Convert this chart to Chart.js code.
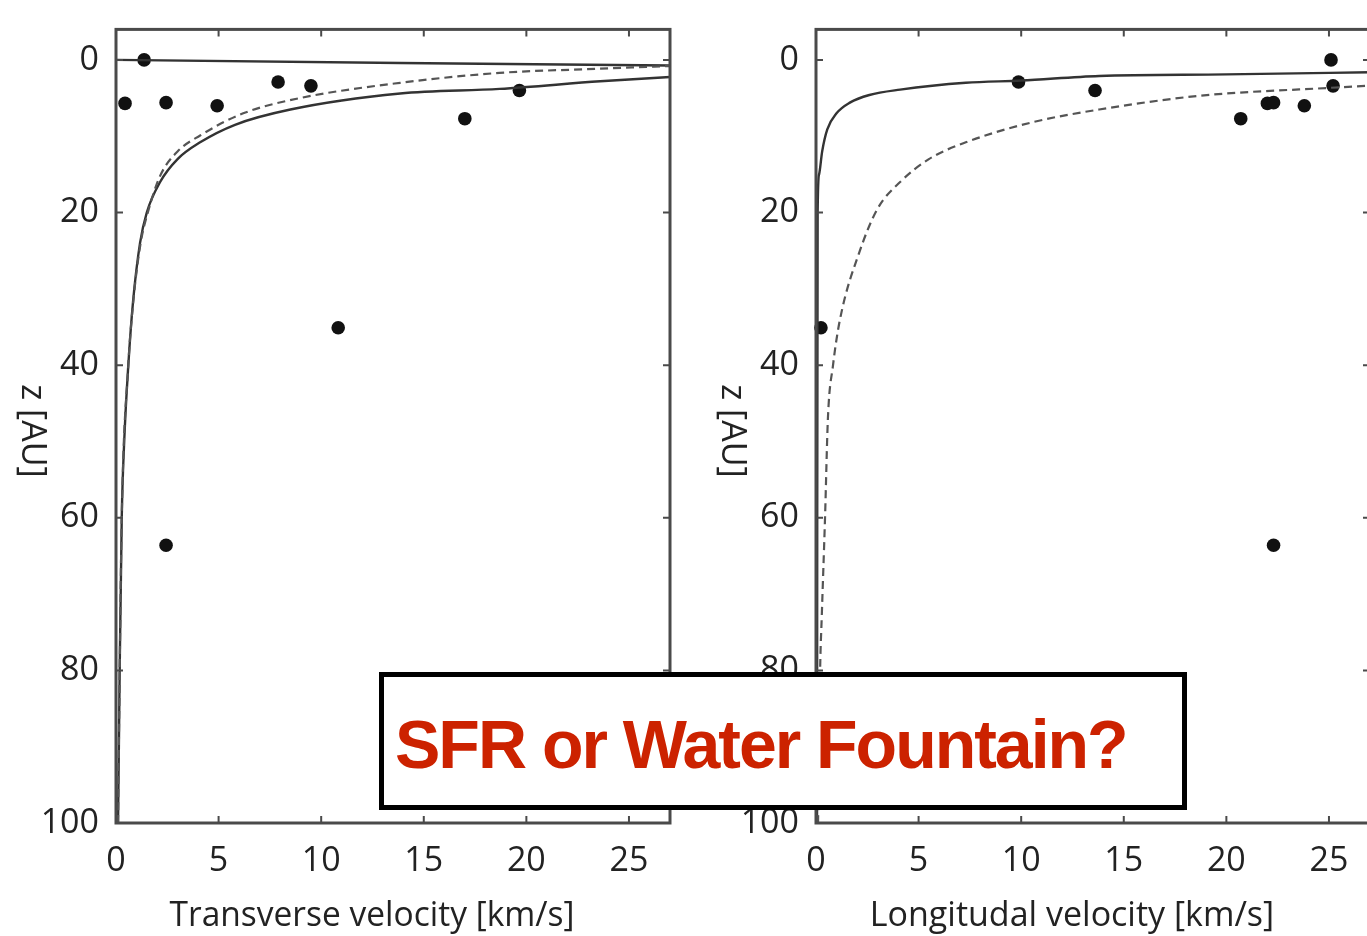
<!DOCTYPE html>
<html>
<head>
<meta charset="utf-8">
<script src="https://cdn.jsdelivr.net/npm/chart.js@4/dist/chart.umd.min.js"></script>
<style>
  html, body { margin: 0; padding: 0; background: #fff; }
  body { width: 1367px; height: 936px; overflow: hidden; position: relative; }
  .panel { position: absolute; top: 0; width: 700px; height: 936px; }
  #left { left: 0; }
  #right { left: 700px; }
  #note {
    position: absolute; left: 379px; top: 672px; width: 808px; height: 138px;
    box-sizing: border-box; border: 5px solid #000; background: #fff; z-index: 5;
  }
  #note span {
    position: absolute; left: 11px; top: 28px; line-height: 68px; white-space: nowrap;
    font: bold 68px "Liberation Sans", Arial, sans-serif; letter-spacing: -2px; color: #cc2200;
  }
</style>
</head>
<body>
<div class="panel" id="left"><canvas id="chartLeft" width="700" height="936"></canvas></div>
<div class="panel" id="right"><canvas id="chartRight" width="700" height="936"></canvas></div>
<div id="note"><span>SFR or Water Fountain?</span></div>

<script>
// axis ticks
const xTicks = [0, 5, 10, 15, 20, 25];
const zTicks = [0, 20, 40, 60, 80, 100];

// observed points (z in AU, velocities in km/s)
const zObs = [0, 5.7, 5.6, 6.0, 2.9, 3.4, 7.7, 4.0, 35.1, 63.6];
const vTrans = [1.37, 0.44, 2.44, 4.93, 7.9, 9.5, 17.0, 19.66, 10.83, 2.44];
const vLong = [25.1, 22.0, 22.3, 23.8, 9.87, 25.2, 20.7, 13.6, 0.24, 22.3];

// transverse model curves
const transSolidV = [0.1, 0.18, 0.28, 0.4, 0.6, 0.83, 1.17, 1.5, 2.15, 3.0, 4.1, 5.8, 8.5, 13.85, 18.7, 23.6, 27.5];
const transSolidZ = [100, 80, 60, 50, 40, 31.7, 24, 20, 16, 13, 10.8, 8.5, 6.5, 4.4, 3.8, 2.8, 2.15];
const transDashV = [0.1, 0.18, 0.28, 0.6, 0.84, 1.2, 1.55, 2.15, 3.0, 4.1, 6.2, 8.97, 13.85, 18.7, 23.6, 27.5];
const transDashZ = [100, 80, 60, 40, 31.7, 24, 20, 15.2, 12, 9.9, 7, 5.0, 3.0, 1.7, 1.15, 0.75];
const transTopV = [0, 13.85, 27.5];
const transTopZ = [0, 0.4, 0.75];

// longitudinal model curves
const longSolidV = [0.05, 0.06, 0.08, 0.15, 0.3, 0.55, 1.0, 1.65, 2.6, 4.1, 7.3, 10, 13.8, 20, 27.5];
const longSolidZ = [100, 60, 20, 15, 12, 9.1, 7, 5.6, 4.6, 3.9, 3.0, 2.7, 2.1, 1.9, 1.6];
const longDashV = [0.1, 0.2, 0.28, 0.44, 0.58, 0.83, 1.17, 2.14, 3.0, 4.1, 5.5, 7.3, 10.5, 13.8, 18.7, 25.1, 27.5];
const longDashZ = [100, 80, 73, 60, 47, 40, 34, 25, 19.5, 16, 13, 10.8, 8.2, 6.5, 4.7, 3.65, 3.3];

const pairs = (xs, ys) => xs.map((x, i) => ({ x: x, y: ys[i] }));

const frameColor = '#4a4a4a';
const textColor = '#222';
const tickFont = { family: '"Open Sans", sans-serif', size: 34 };

// box with inward ticks on all four sides, plus axis titles
const framePlugin = {
  id: 'frame',
  afterDraw(chart, args, opts) {
    const { ctx, chartArea: a, scales } = chart;
    ctx.save();
    ctx.strokeStyle = frameColor;
    ctx.lineWidth = 3;
    ctx.strokeRect(a.left, a.top, a.right - a.left, a.bottom - a.top);
    ctx.lineWidth = 2;
    ctx.beginPath();
    xTicks.forEach(v => {
      const px = scales.x.getPixelForValue(v);
      if (px <= a.left + 1 || px >= a.right - 1) return;
      ctx.moveTo(px, a.bottom); ctx.lineTo(px, a.bottom - 7);
      ctx.moveTo(px, a.top); ctx.lineTo(px, a.top + 7);
    });
    zTicks.forEach(v => {
      const py = scales.y.getPixelForValue(v);
      if (py <= a.top + 1 || py >= a.bottom - 1) return;
      ctx.moveTo(a.left, py); ctx.lineTo(a.left + 7, py);
      ctx.moveTo(a.right, py); ctx.lineTo(a.right - 7, py);
    });
    ctx.stroke();

    ctx.fillStyle = textColor;
    ctx.font = '34px "Open Sans", sans-serif';
    ctx.textAlign = 'center';
    ctx.textBaseline = 'alphabetic';
    ctx.fillText(opts.xTitle, opts.xTitleX, 926, 405);

    ctx.translate(32, 431);
    ctx.rotate(Math.PI / 2);
    ctx.textBaseline = 'middle';
    ctx.fillText('z [AU]', 0, 0, 95);
    ctx.restore();
  }
};

function makeChart(id, obsV, solid, dashed, extra, xTitle) {
  const datasets = [
    {
      data: pairs(dashed[0], dashed[1]),
      showLine: true, pointRadius: 0, borderColor: '#555', borderWidth: 2.2,
      borderDash: [8, 5], cubicInterpolationMode: 'monotone'
    },
    {
      data: pairs(solid[0], solid[1]),
      showLine: true, pointRadius: 0, borderColor: '#333', borderWidth: 2.4,
      cubicInterpolationMode: 'monotone'
    }
  ];
  if (extra) {
    datasets.push({
      data: pairs(extra[0], extra[1]),
      showLine: true, pointRadius: 0, borderColor: '#333', borderWidth: 2.4
    });
  }
  datasets.push({
    data: pairs(obsV, zObs),
    showLine: false, pointRadius: 6.8, pointBackgroundColor: '#111',
    pointBorderWidth: 0, clip: false
  });

  return new Chart(document.getElementById(id), {
    type: 'scatter',
    data: { datasets: datasets },
    plugins: [framePlugin],
    options: {
      responsive: false,
      animation: false,
      layout: { padding: { top: 26, right: 30, left: 0, bottom: 0 } },
      plugins: {
        legend: { display: false },
        tooltip: { enabled: false },
        frame: { xTitle: xTitle, xTitleX: 372 }
      },
      scales: {
        x: {
          type: 'linear', min: 0, max: 27,
          afterBuildTicks: s => { s.ticks = xTicks.map(v => ({ value: v })); },
          afterFit: s => { s.height = 113; },
          grid: { display: false },
          border: { display: false },
          ticks: { font: tickFont, color: textColor, padding: 10, maxRotation: 0 }
        },
        y: {
          type: 'linear', min: -4, max: 100, reverse: true,
          afterBuildTicks: s => { s.ticks = zTicks.map(v => ({ value: v })); },
          afterFit: s => { s.width = 116; },
          grid: { display: false },
          border: { display: false },
          ticks: { font: tickFont, color: textColor, padding: 9 }
        }
      }
    }
  });
}

makeChart('chartLeft', vTrans, [transSolidV, transSolidZ], [transDashV, transDashZ],
  [transTopV, transTopZ], 'Transverse velocity [km/s]');
makeChart('chartRight', vLong, [longSolidV, longSolidZ], [longDashV, longDashZ],
  null, 'Longitudal velocity [km/s]');
</script>
</body>
</html>
